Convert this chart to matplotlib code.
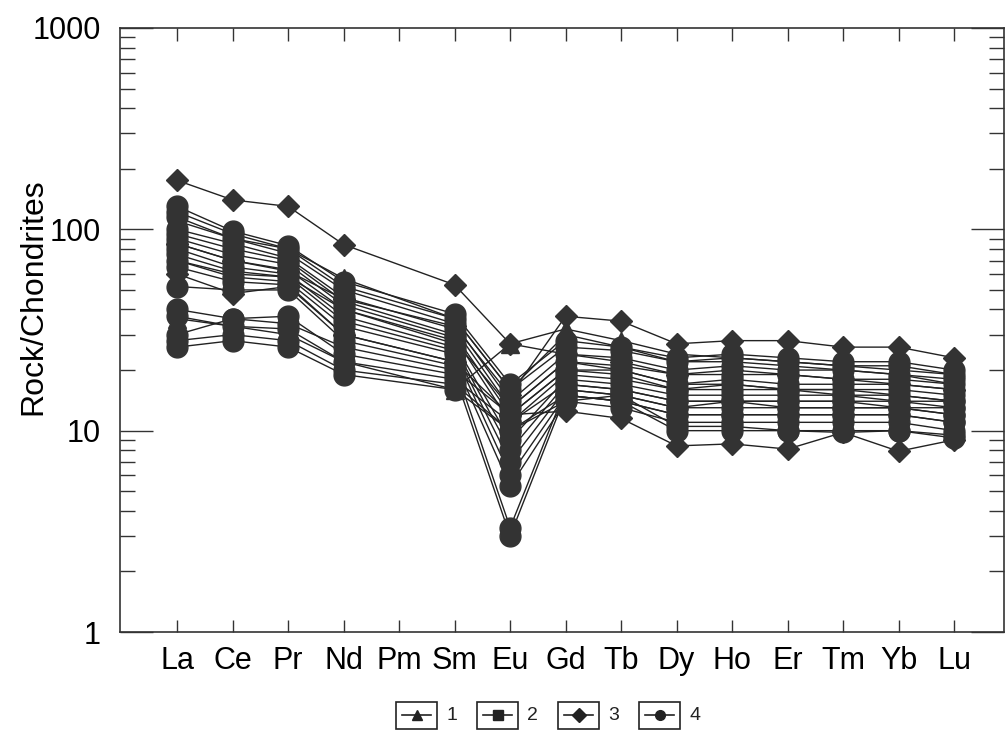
import matplotlib
matplotlib.use("Agg")
import matplotlib.pyplot as plt
from matplotlib.patches import Rectangle
from matplotlib.lines import Line2D
import numpy as np

plt.rcParams['font.family'] = ['Liberation Sans', 'DejaVu Sans']

elements = ["La", "Ce", "Pr", "Nd", "Pm", "Sm", "Eu", "Gd", "Tb", "Dy", "Ho", "Er", "Tm", "Yb", "Lu"]
# measured elements (Pm not analysed)
measured = ["La", "Ce", "Pr", "Nd", "Sm", "Eu", "Gd", "Tb", "Dy", "Ho", "Er", "Tm", "Yb", "Lu"]

# group 1 (triangles)
group1 = [
    [36, 33, 30, 22, 16, 27, 32, 28, 24, 23, 22, 21, 20, 19],
    [110, 90, 80, 57, 36, 16, 30, 26, 22, 22, 21, 20, 19, 17],
]
# group 2 (squares)
group2 = [
    [70, 60, 58, 40, 28, 13, 22, 20, 17, 17, 16, 16, 15, 14],
]
# group 3 (diamonds)
group3 = [
    [175, 140, 130, 84, 53, 27, 24, 22, 19, 20, 19, 18, 17, 16],
    [60, 48, 52, 30, 22, 12, 12.5, 11.5, 8.4, 8.6, 8.1, 9.8, 7.9, 9.0],
    [85, 70, 62, 45, 33, 15, 37, 35, 27, 28, 28, 26, 26, 23],
]
# group 4 (circles)
group4 = [
    [130, 98, 83, 55, 38, 17, 28, 26, 23, 24, 23, 22, 22, 20],
    [122, 95, 80, 52, 36, 16, 26, 25, 22, 23, 22, 21, 21, 19],
    [115, 90, 76, 50, 34, 14, 24, 23, 20, 21, 20, 20, 19, 18],
    [100, 85, 72, 46, 32, 13, 22, 21, 19, 19, 19, 18, 18, 17],
    [95, 80, 70, 44, 30, 12, 20, 20, 17, 18, 17, 17, 17, 16],
    [90, 75, 67, 42, 29, 11, 19, 18, 16, 17, 16, 16, 16, 15],
    [85, 70, 63, 40, 27, 9, 18, 17, 15, 15, 15, 15, 14, 14],
    [80, 65, 60, 37, 26, 8, 17, 16, 14, 14, 14, 14, 13, 13],
    [75, 62, 58, 35, 25, 7, 16, 15, 13, 13, 13, 13, 13, 12],
    [70, 58, 55, 33, 24, 6, 15, 14, 12, 12, 12, 12, 12, 11],
    [65, 55, 53, 30, 22, 5.3, 14, 13, 11, 11, 11, 11, 11, 10],
    [52, 50, 50, 28, 21, 3.3, 16, 15, 13, 14, 13, 13, 13, 12],
    [40, 36, 37, 24, 19, 3.0, 15, 14, 12, 12, 12, 12, 12, 11],
    [37, 33, 32, 22, 18, 11, 17, 16, 14, 14, 14, 14, 14, 13],
    [28, 30, 28, 20, 17, 10, 14, 15, 10.5, 10.5, 10, 10, 10, 9.5],
    [26, 28, 26, 19, 16, 10, 15, 14, 10, 10, 10, 9.8, 10, 9.2],
    [30, 36, 34, 26, 20, 12, 20, 19, 16, 16, 16, 15, 15, 14],
]

legend_labels = ["1", "2", "3", "4"]
markers = ["^", "s", "D", "o"]
marker_sizes = [13, 11, 11, 15]
groups = [group1, group2, group3, group4]

W, H = 1005, 733
fig = plt.figure(figsize=(W / 100, H / 100), dpi=100)
ax = fig.add_axes([120 / W, (H - 632) / H, (1004 - 120) / W, (632 - 28) / H])

xpos = [elements.index(e) for e in measured]
col = "#333333"
# draw circles first so others sit above
order = [3, 1, 0, 2]
for gi in order:
    for sample in groups[gi]:
        ax.plot(xpos, sample, color="#222222", lw=1.0, zorder=2)
        ax.plot(xpos, sample, linestyle="none", marker=markers[gi],
                markersize=marker_sizes[gi], markerfacecolor=col,
                markeredgecolor=col, zorder=3)

ax.set_yscale("log")
ax.set_ylim(1, 1000)
ax.set_xlim(-1.03, 14.9)
ax.set_xticks(range(len(elements)))
ax.set_xticklabels(elements, fontsize=22)
ax.set_yticks([1, 10, 100, 1000])
ax.set_yticklabels(["1", "10", "100", "1000"], fontsize=22)
ax.set_ylabel("Rock/Chondrites", fontsize=23)

ax.tick_params(axis="y", which="major", direction="in", length=24, width=1.0,
               left=True, right=True, pad=14, color="#333333")
ax.tick_params(axis="y", which="minor", direction="in", length=11, width=1.0,
               left=True, right=True, color="#333333")
ax.tick_params(axis="x", which="major", direction="in", length=9, width=1.0,
               top=True, bottom=True, pad=10, color="#333333")
ax.tick_params(axis="x", which="minor", bottom=False, top=False)
for s in ax.spines.values():
    s.set_linewidth(1.2)
    s.set_color("#333333")
ax.yaxis.set_label_coords(-0.0814, 0.555)

# custom boxed legend
box_w, box_h = 41, 27
x0s = [396, 477, 558, 639]
yc = 715
for i, x0 in enumerate(x0s):
    fx = x0 / W
    fy = (H - yc - box_h / 2) / H
    fig.patches.append(Rectangle((fx, fy), box_w / W, box_h / H, transform=fig.transFigure,
                                 fill=False, edgecolor="#222222", linewidth=1.2))
    ly = (H - yc) / H
    fig.lines.append(Line2D([(x0 + 6) / W, (x0 + box_w - 6) / W], [ly, ly],
                            transform=fig.transFigure, color="#222222", lw=1.2))
    fig.lines.append(Line2D([(x0 + box_w / 2) / W], [ly], transform=fig.transFigure,
                            marker=markers[i], markersize=7,
                            color="#222222", linestyle="none"))
    fig.text((x0 + box_w + 9) / W, ly, legend_labels[i], fontsize=14,
             va="center", ha="left", color="#222222")

fig.savefig("out.png", dpi=100)
